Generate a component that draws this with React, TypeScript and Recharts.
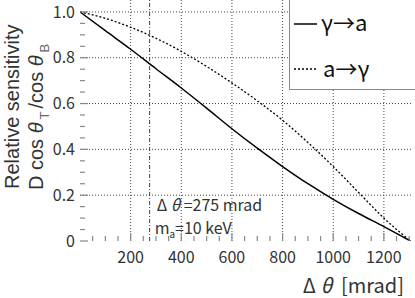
import React from 'react';
import { LineChart, Line, XAxis, YAxis, ReferenceLine, ReferenceArea } from 'recharts';

// Δθ in mrad
const deltaTheta = [0, 100, 200, 300, 400, 500, 600, 700, 800, 900, 1000, 1100, 1200, 1305];
// γ→a (solid)
const gammaToA = [1.0, 0.918, 0.837, 0.752, 0.668, 0.58, 0.49, 0.405, 0.325, 0.25, 0.182, 0.12, 0.063, 0];
// a→γ (dotted)
const aToGamma = [1.0, 0.972, 0.933, 0.885, 0.828, 0.762, 0.69, 0.612, 0.527, 0.43, 0.325, 0.212, 0.1, 0];

const xTicks = [50, 100, 150, 200, 250, 300, 350, 400, 450, 500, 550, 600, 650, 700, 750, 800, 850, 900, 950, 1000, 1050, 1100, 1150, 1200, 1250, 1300];
const xLabels = [200, 400, 600, 800, 1000, 1200];
const yTicks = [0, 0.05, 0.1, 0.15, 0.2, 0.25, 0.3, 0.35, 0.4, 0.45, 0.5, 0.55, 0.6, 0.65, 0.7, 0.75, 0.8, 0.85, 0.9, 0.95, 1.0];
const yLabels = [0, 0.2, 0.4, 0.6, 0.8, 1.0];
const xGrid = [200, 400, 600, 800, 1000, 1200];
const yGrid = [0.2, 0.4, 0.6, 0.8, 1.0];
const cutAngle = 275;

const data = deltaTheta.map((x, i) => ({ x, g2a: gammaToA[i], a2g: aToGamma[i] }));

const font = '"Noto Sans CJK JP", "DejaVu Sans", sans-serif';
const titleFont = '"Liberation Sans", Arial, sans-serif';
const ink = '#333';
const frame = '#888';

const isLabel = (list: number[], v: number) => list.some((l) => Math.abs(l - v) < 1e-6);

const YTick = (props: any) => {
  const { x, y, payload } = props;
  const v = payload.value;
  const major = isLabel(yLabels, v);
  return (
    <g>
      <line x1={x} x2={x + (major ? 8 : 5)} y1={y} y2={y} stroke={frame} strokeWidth={1.2} />
      {major && (
        <text x={x - 5} y={y} dy="0.36em" textAnchor="end" fontSize={16} fill={ink} fontFamily={font}>
          {v === 0 ? '0' : v.toFixed(1)}
        </text>
      )}
    </g>
  );
};

const XTick = (props: any) => {
  const { x, y, payload } = props;
  const v = payload.value;
  const major = isLabel(xLabels, v);
  return (
    <g>
      <line x1={x} x2={x} y1={y} y2={y - (major ? 8 : 5)} stroke={frame} strokeWidth={1.2} />
      {major && (
        <text x={x} y={y + 22} textAnchor="middle" fontSize={16} fill={ink} fontFamily={font}>
          {v}
        </text>
      )}
    </g>
  );
};

const YTitle = () => (
  <g fontFamily={titleFont} fill={ink} fontSize={20}>
    <text x={18.5} y={189} transform="rotate(-90, 18.5, 189)" textAnchor="start">
      Relative sensitivity
    </text>
    <text x={43} y={190} transform="rotate(-90, 43, 190)" textAnchor="start">
      D cos <tspan fontStyle="italic">θ</tspan>
      <tspan fontSize={13} dx={3} dy={6} fill="#666">T</tspan>
      <tspan dx={3} dy={-6}>/cos </tspan>
      <tspan fontStyle="italic">θ</tspan>
      <tspan fontSize={13} dx={3} dy={6} fill="#666">B</tspan>
    </text>
  </g>
);

const XTitle = () => (
  <text x={404} y={293} textAnchor="end" fontFamily={font} fill={ink} fontSize={20}>
    Δ{'\u00a0'}<tspan fontStyle="italic">θ</tspan>{'\u00a0\u00a0'}[mrad]
  </text>
);

const Note = (props: any) => {
  const x = props.viewBox ? props.viewBox.x : 149;
  return (
    <g fontFamily={font} fill={ink} fontSize={16}>
      <text x={x + 7} y={211}>
        Δ{'\u00a0'}<tspan fontStyle="italic">θ</tspan>{'\u00a0'}=275 mrad
      </text>
      <text x={x + 5} y={234}>
        m<tspan fontSize={10} dy={4}>a</tspan>
        <tspan dy={-4}>=10 keV</tspan>
      </text>
    </g>
  );
};

const LegendBox = () => (
  <div
    style={{
      position: 'absolute',
      left: 289,
      top: -1,
      width: 130,
      height: 91,
      border: `1.5px solid ${frame}`,
      background: '#fff',
      boxSizing: 'border-box',
    }}
  >
    <svg width={130} height={90} style={{ display: 'block' }}>
      <line x1={4} x2={27} y1={24} y2={24} stroke="#000" strokeWidth={1.5} />
      <text x={31} y={31} fontFamily={font} fontSize={22} fill="#111">γ→a</text>
      <line x1={4} x2={27} y1={69} y2={69} stroke="#000" strokeWidth={1.3} strokeDasharray="2 2" />
      <text x={33} y={77} fontFamily={font} fontSize={22} fill="#111">a→γ</text>
    </svg>
  </div>
);

export default function App() {
  return (
    <div style={{ position: 'absolute', left: 0, top: 0, width: 415, height: 298, background: '#fff' }}>
      <LineChart width={415} height={298} data={data} margin={{ top: 0, right: 2, left: 0, bottom: 0 }}>
        <XAxis
          dataKey="x"
          type="number"
          domain={[0, 1315]}
          ticks={xTicks}
          interval={0}
          height={57}
          axisLine={false}
          tickLine={false}
          tickSize={0}
          tickMargin={0}
          tick={<XTick />}
          allowDataOverflow
          label={<XTitle />}
        />
        <YAxis
          type="number"
          domain={[0, 1.052]}
          ticks={yTicks}
          interval={0}
          width={80}
          axisLine={false}
          tickLine={false}
          tickSize={0}
          tickMargin={0}
          tick={<YTick />}
          allowDataOverflow
          label={<YTitle />}
        />
        {yGrid.map((v) => (
          <ReferenceLine key={'h' + v} y={v} stroke="#444" strokeWidth={1} strokeDasharray="1 2" />
        ))}
        {xGrid.map((v) => (
          <ReferenceLine key={'v' + v} x={v} stroke="#444" strokeWidth={1} strokeDasharray="1 2" />
        ))}
        <ReferenceLine x={cutAngle} stroke="#444" strokeWidth={1} strokeDasharray="4 2 1 2" label={<Note />} />
        <Line
          dataKey="a2g"
          type="monotone"
          stroke="#000"
          strokeWidth={1.3}
          strokeDasharray="2 2"
          dot={false}
          isAnimationActive={false}
        />
        <Line dataKey="g2a" type="monotone" stroke="#000" strokeWidth={1.5} dot={false} isAnimationActive={false} />
        <ReferenceArea fill="none" stroke={frame} strokeWidth={2} ifOverflow="visible" />
      </LineChart>
      <LegendBox />
    </div>
  );
}
